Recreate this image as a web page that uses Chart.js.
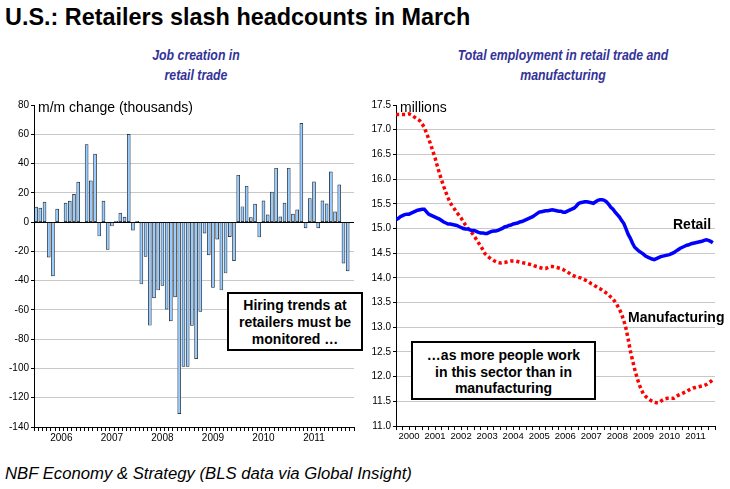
<!DOCTYPE html>
<html><head><meta charset="utf-8">
<script src="https://cdn.jsdelivr.net/npm/chart.js@4.4.1/dist/chart.umd.min.js"></script>
<style>
html,body{margin:0;padding:0;background:#fff}
body{width:730px;height:489px;overflow:hidden;position:relative;font-family:'Liberation Sans',Arial,sans-serif}
.abs{position:absolute;white-space:nowrap}
#title{left:5px;top:4px;font:bold 23.4px 'Liberation Sans',Arial,sans-serif;color:#000}
.sub{font:italic bold 15px 'Liberation Sans',Arial,sans-serif;color:#333399;text-align:center;line-height:20px;transform:scaleX(0.82);transform-origin:50% 50%}
.lab{font:14px 'Liberation Sans',Arial,sans-serif;color:#000;line-height:16px}
.blab{font:bold 14px 'Liberation Sans',Arial,sans-serif;color:#000;line-height:16px}
.box{box-sizing:border-box;border:2px solid #000;background:#fff;text-align:center;font:bold 14px 'Liberation Sans',Arial,sans-serif;color:#000}
#foot{left:5px;top:464px;font:italic 16.7px 'Liberation Sans',Arial,sans-serif;color:#000}
canvas{position:absolute}
</style></head>
<body>
<div id="title" class="abs">U.S.: Retailers slash headcounts in March</div>
<div class="abs sub" style="left:96px;top:45px;width:200px">Job creation in<br>retail trade</div>
<div class="abs sub" style="left:413px;top:45px;width:300px">Total employment in retail trade and<br>manufacturing</div>
<canvas id="cL" width="362" height="355" style="left:0;top:95px;width:362px;height:355px"></canvas>
<canvas id="cR" width="368" height="355" style="left:362px;top:95px;width:368px;height:355px"></canvas>
<div class="abs lab" style="left:38px;top:99px">m/m change (thousands)</div>
<div class="abs lab" style="left:400px;top:99px">millions</div>
<div class="abs blab" style="left:673px;top:216px">Retail</div>
<div class="abs blab" style="left:628px;top:309px">Manufacturing</div>
<div class="abs box" style="left:227px;top:292px;width:136px;height:59px;padding-top:3px;line-height:17px">Hiring trends at<br>retailers must be<br>monitored …</div>
<div class="abs box" style="left:411px;top:341px;width:185px;height:59px;padding-top:4px;line-height:16.5px">…as more people work<br>in this sector than in<br>manufacturing</div>
<div id="foot" class="abs">NBF Economy &amp; Strategy (BLS data via Global Insight)</div>
<script>
// ---- Left chart: monthly change in retail jobs (thousands), Jan 2006 - Mar 2012
const jobStartYear = 2006;
const jobSlots = 76; // Jan 2006 .. Apr 2012 axis slots
const jobChange = [
  10.2, 9.5, 13.6, -24, -36.8, 8.9, 0, 13, 14.3, 19, 27.3, 0,
  53, 28.2, 46.4, -9.5, 14.3, -18.6, -2.7, 0.5, 6.1, 3.4, 60, -5.5,
  0.5, -42.3, -23.4, -70.5, -51.8, -46.4, -43.2, -59.5, -67.5, -51.1, -130.9, -98.6,
  -98.6, -70.6, -93.3, -61, -7.5, -22.4, -44.6, -11.6, -46.4, -34.8, -10, -26.4,
  32, 10.5, 24.5, 3, 12.3, -10.2, 14.5, 5, 20.5, 36.8, 3.6, 13,
  36.8, 5.5, 8.4, 67.5, -4, 16, 27.5, -4, 14.5, 12.5, 34.3, 7,
  25.5, -28, -33.4
];
const jobYTicks = {min: -140, max: 80, step: 20};

// ---- Right chart: employment (millions), Jan 2000 - Mar 2012
const empStartYear = 2000;
const retail = [
  15.18,15.20,15.24,15.26,15.28,15.29,15.29,15.31,15.33,15.35,15.37,15.38,
  15.39,15.39,15.34,15.29,15.27,15.25,15.23,15.21,15.19,15.16,15.13,15.11,
  15.09,15.09,15.08,15.07,15.06,15.04,15.02,15.00,14.99,14.99,14.97,14.96,
  14.96,14.94,14.92,14.91,14.91,14.90,14.90,14.92,14.94,14.95,14.95,14.96,
  14.98,15.00,15.03,15.04,15.06,15.07,15.09,15.10,15.11,15.13,15.14,15.16,
  15.18,15.20,15.22,15.24,15.27,15.30,15.33,15.34,15.35,15.36,15.36,15.37,
  15.38,15.37,15.36,15.35,15.35,15.33,15.33,15.35,15.37,15.39,15.41,15.45,
  15.50,15.52,15.53,15.54,15.54,15.53,15.52,15.51,15.54,15.57,15.58,15.58,
  15.57,15.54,15.49,15.43,15.39,15.33,15.28,15.23,15.16,15.10,14.99,14.88,
  14.80,14.70,14.62,14.58,14.54,14.51,14.48,14.44,14.42,14.40,14.38,14.37,
  14.39,14.41,14.43,14.44,14.45,14.46,14.47,14.49,14.51,14.54,14.57,14.60,
  14.62,14.64,14.66,14.67,14.69,14.70,14.71,14.72,14.73,14.74,14.76,14.77,
  14.76,14.74,14.71
];
const manufacturing = [
  17.30,17.31,17.31,17.31,17.31,17.31,17.32,17.30,17.27,17.24,17.21,17.18,
  17.12,17.05,16.94,16.82,16.70,16.56,16.43,16.27,16.12,15.98,15.85,15.73,
  15.62,15.52,15.45,15.39,15.32,15.27,15.21,15.14,15.07,15.01,14.97,14.91,
  14.85,14.78,14.71,14.65,14.57,14.49,14.45,14.41,14.38,14.35,14.33,14.31,
  14.30,14.31,14.31,14.32,14.33,14.34,14.34,14.34,14.33,14.32,14.31,14.30,
  14.29,14.28,14.27,14.26,14.24,14.23,14.21,14.20,14.19,14.19,14.21,14.23,
  14.23,14.22,14.21,14.20,14.19,14.17,14.14,14.12,14.09,14.06,14.04,14.02,
  14.01,14.00,13.98,13.96,13.94,13.91,13.88,13.86,13.83,13.80,13.78,13.75,
  13.72,13.69,13.66,13.61,13.57,13.51,13.44,13.36,13.26,13.13,12.97,12.76,
  12.52,12.33,12.15,11.99,11.85,11.74,11.65,11.60,11.56,11.53,11.50,11.48,
  11.47,11.47,11.50,11.53,11.55,11.56,11.56,11.56,11.56,11.59,11.62,11.64,
  11.66,11.68,11.70,11.73,11.75,11.77,11.78,11.79,11.80,11.81,11.82,11.84,
  11.87,11.90,11.94
];
const empYTicks = {min: 11, max: 17.5, step: 0.5};
const empXMax = 147;

const TICKFONT = "'Liberation Sans',Arial,sans-serif";
const GRID = '#c8c8c8';

const jobLabels = [];
for (let i = 0; i < jobSlots; i++) jobLabels.push((jobStartYear + Math.floor(i / 12)) + '-' + (i % 12 + 1));

new Chart(document.getElementById('cL'), {
  type: 'bar',
  data: {labels: jobLabels, datasets: [{
    data: jobChange, backgroundColor: '#99ccff', borderColor: '#1a1a1a', borderWidth: 0.7,
    barThickness: 3, borderSkipped: false
  }]},
  options: {
    responsive: false, animation: false, devicePixelRatio: 1,
    layout: {padding: {top: 10, right: 8, left: 0, bottom: 0}},
    plugins: {legend: {display: false}, tooltip: {enabled: false}},
    scales: {
      x: {
        grid: {drawOnChartArea: false, drawTicks: true, tickLength: 4, color: '#000', offset: true},
        border: {color: '#000', width: 1},
        ticks: {autoSkip: false, maxRotation: 0, minRotation: 0, padding: 1, color: '#000',
          font: {family: TICKFONT, size: 10},
          callback: (v, i) => i % 12 === 6 ? String(jobStartYear + Math.floor(i / 12)) : ''},
        afterFit: s => { s.height = 23; }
      },
      y: {
        min: jobYTicks.min, max: jobYTicks.max,
        ticks: {stepSize: jobYTicks.step, autoSkip: false, color: '#000', padding: 2, font: {family: TICKFONT, size: 10}},
        grid: {color: c => c.tick.value === 0 ? '#000' : (c.tick.value === jobYTicks.max ? 'rgba(0,0,0,0)' : GRID),
               tickColor: '#000', tickLength: 3},
        border: {color: '#000', width: 1},
        afterFit: s => { s.width = 34; }
      }
    }
  }
});

new Chart(document.getElementById('cR'), {
  type: 'line',
  data: {datasets: [
    {data: retail.map((v, i) => ({x: i, y: v})), borderColor: '#0000ff', borderWidth: 3.5,
     pointRadius: 0, tension: 0, fill: false},
    {data: manufacturing.map((v, i) => ({x: i, y: v})), borderColor: '#ff0000', borderWidth: 3.5,
     borderDash: [3.2, 2.8], pointRadius: 0, tension: 0, fill: false}
  ]},
  options: {
    responsive: false, animation: false, devicePixelRatio: 1,
    layout: {padding: {top: 10, right: 15, left: 0, bottom: 0}},
    plugins: {legend: {display: false}, tooltip: {enabled: false}},
    scales: {
      x: {
        type: 'linear', min: 0, max: empXMax,
        grid: {drawOnChartArea: false, drawTicks: true, tickLength: 4, color: '#000'},
        border: {color: '#000', width: 1},
        ticks: {stepSize: 3, autoSkip: false, maxRotation: 0, minRotation: 0, padding: 1, color: '#000',
          font: {family: TICKFONT, size: 9.5},
          callback: v => v % 12 === 6 ? String(empStartYear + (v - 6) / 12) : ''},
        afterFit: s => { s.height = 24; }
      },
      y: {
        min: empYTicks.min, max: empYTicks.max,
        ticks: {stepSize: empYTicks.step, autoSkip: false, color: '#000', padding: 2,
          font: {family: TICKFONT, size: 10}, callback: v => Number(v).toFixed(1)},
        grid: {color: c => c.tick.value === empYTicks.max ? 'rgba(0,0,0,0)' : GRID, tickColor: '#000', tickLength: 3},
        border: {color: '#000', width: 1},
        afterFit: s => { s.width = 34; }
      }
    }
  }
});
</script>
</body></html>
